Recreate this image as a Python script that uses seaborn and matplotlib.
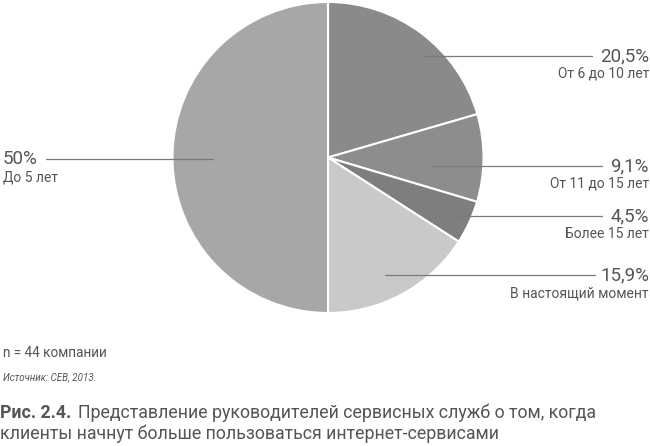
import matplotlib
matplotlib.use("Agg")
import matplotlib.pyplot as plt
import seaborn as sns

sns.set_theme(style="white")
plt.rcParams['font.family'] = ['Roboto', 'DejaVu Sans']

# data (clockwise from top)
categories = ["От 6 до 10 лет", "От 11 до 15 лет", "Более 15 лет", "В настоящий момент", "До 5 лет"]
values = [20.5, 9.1, 4.5, 15.9, 50.0]
pct_labels = ["20,5%", "9,1%", "4,5%", "15,9%", "50%"]
colors = ["#8a8a8a", "#8d8d8d", "#7e7e7e", "#c9c9c9", "#a7a7a7"]

# label layout in pixel coords: (line_x0, line_x1, y, side)
layout = [
    (423, 592, 56, "right"),
    (432, 602, 166, "right"),
    (450, 602, 216, "right"),
    (385, 595, 275, "right"),
    (46, 213, 159, "left"),
]

W, H = 650, 446
fig = plt.figure(figsize=(W / 100, H / 100), dpi=100)
ax = fig.add_axes([0, 0, 1, 1])

def Y(y):
    return H - y

cx, cy, r = 328, 157.5, 155.5
ax.pie(values, colors=colors, startangle=90, counterclock=False,
       center=(cx, Y(cy)), radius=r, frame=True,
       wedgeprops=dict(edgecolor="white", linewidth=1.5))
ax.set_xlim(0, W)
ax.set_ylim(0, H)
ax.set_aspect("auto")
ax.axis("off")

tc = "#555555"
lc = "#7a7a7a"
for (x0, x1, y, side), pl, cat in zip(layout, pct_labels, categories):
    ax.plot([x0, x1], [Y(y), Y(y)], color=lc, lw=0.9)
    if side == "right":
        ax.text(649, Y(y), pl, ha="right", va="center", fontsize=13.5, color=tc)
        ax.text(649, Y(y + 18), cat, ha="right", va="center", fontsize=10, color=tc)
    else:
        ax.text(3, Y(y), pl, ha="left", va="center", fontsize=13.5, color=tc)
        ax.text(3, Y(y + 18), cat, ha="left", va="center", fontsize=10, color=tc)

ax.text(3, Y(353), "n = 44 компании", ha="left", va="center", fontsize=9.8, color=tc)
ax.text(3, Y(377), "Источник: CEB, 2013.", ha="left", va="center", fontsize=7,
        color=tc, style="italic")
ax.text(0, Y(413), "Рис. 2.4.", ha="left", va="center", fontsize=12.8,
        color=tc, fontweight="bold")
ax.text(78, Y(413), "Представление руководителей сервисных служб о том, когда",
        ha="left", va="center", fontsize=12.8, color=tc)
ax.text(0, Y(434), "клиенты начнут больше пользоваться интернет-сервисами",
        ha="left", va="center", fontsize=12.8, color=tc)

fig.savefig("out.png", dpi=100)
